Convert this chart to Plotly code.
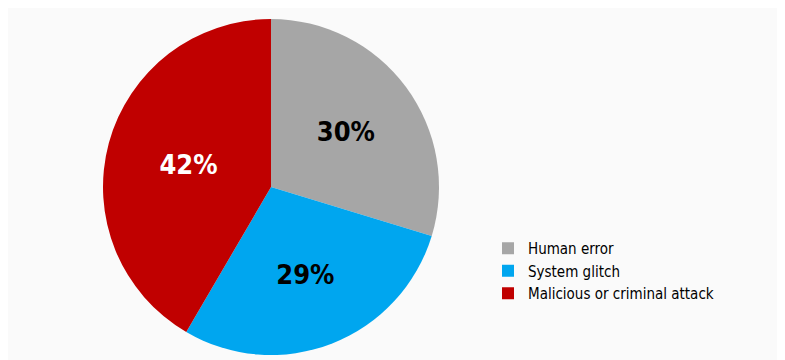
import plotly.graph_objects as go

categories = ["Human error", "System glitch", "Malicious or criminal attack"]
values = [30, 29, 42]
colors = ["#A6A6A6", "#00A6EF", "#C00000"]
text_colors = ["black", "black", "white"]

W, H = 785, 360
cx, cy, r = 263, 179, 168

FONT = "Liberation Sans Narrow, DejaVu Sans Condensed, Arial Narrow, Liberation Sans, sans-serif"

fig = go.Figure(go.Pie(
    labels=categories,
    values=values,
    sort=False,
    direction="clockwise",
    rotation=0,
    marker=dict(colors=colors, line=dict(width=0)),
    texttemplate="<b>%{value}%</b>",
    textposition="inside",
    insidetextorientation="horizontal",
    insidetextfont=dict(family=FONT, size=27, color=text_colors),
    hoverinfo="label+value",
    domain=dict(x=[(cx - r) / W, (cx + r) / W],
                y=[(H - cy - r) / H, (H - cy + r) / H]),
))

fig.update_layout(
    width=W, height=H,
    margin=dict(l=0, r=0, t=0, b=0),
    paper_bgcolor="#FAFAFA",
    plot_bgcolor="#FAFAFA",
    showlegend=True,
    legend=dict(
        x=480 / W, y=1 - 224 / H, xanchor="left", yanchor="top",
        font=dict(family=FONT, size=15, color="black"),
        bgcolor="rgba(0,0,0,0)",
        itemwidth=30,
        tracegroupgap=0,
    ),
)

fig.write_html("out.html")
